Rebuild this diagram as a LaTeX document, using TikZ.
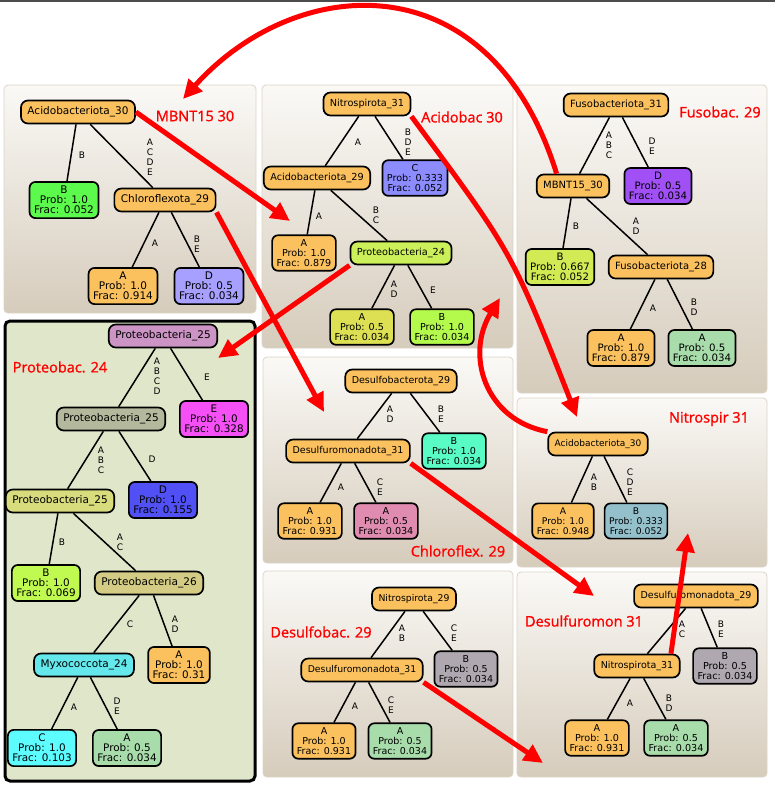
\documentclass[tikz,border=0pt]{standalone}
\usepackage{fontspec}
\setmainfont{DejaVu Sans}
\newfontfamily\tagfont{Open Sans}[FakeBold=1.2]
\usepackage{xcolor}
\usepackage{tikz}
\usetikzlibrary{calc}
\usetikzlibrary{arrows.meta}
\usetikzlibrary{shapes}
\usetikzlibrary{positioning}

\definecolor{orng}{HTML}{FBC15E}
\definecolor{grnB}{HTML}{5CFA4C}
\definecolor{lavD}{HTML}{A8A0FF}
\definecolor{bluC}{HTML}{8C8CFF}
\definecolor{ygrn}{HTML}{CCF05A}
\definecolor{yelA}{HTML}{DCE052}
\definecolor{limB}{HTML}{B4FA4C}
\definecolor{purD}{HTML}{A050F5}
\definecolor{ygrnB}{HTML}{D2EB55}
\definecolor{mint}{HTML}{A8DCAA}
\definecolor{mauve}{HTML}{CC94C4}
\definecolor{magE}{HTML}{F550F5}
\definecolor{gryol}{HTML}{B4B89C}
\definecolor{bluD}{HTML}{5050F5}
\definecolor{yolv}{HTML}{D8DC7C}
\definecolor{limB2}{HTML}{C0FA50}
\definecolor{khaki}{HTML}{D4CC84}
\definecolor{cyanM}{HTML}{64E8EC}
\definecolor{cyanC}{HTML}{5CFCFF}
\definecolor{tealB}{HTML}{58FCC4}
\definecolor{pinkA}{HTML}{E08CB0}
\definecolor{grayL}{HTML}{B0A8B0}
\definecolor{steel}{HTML}{94C0CC}
\definecolor{pbtop}{HTML}{FAF9F6}
\definecolor{pbbot}{HTML}{D6CCBC}
\definecolor{pbline}{HTML}{DCD4C6}
\definecolor{hlfill}{HTML}{DFE6C9}

\def\isz{10}
\def\lsz{10}
\tikzstyle{panel} = [draw=pbline, line width=0.8pt, rounded corners=4pt, top color=pbtop, bottom color=pbbot]
\tikzstyle{hpanel} = [draw=black, line width=3pt, rounded corners=5pt, fill=hlfill]
\tikzstyle{tnode} = [draw, line width=1.7pt, rounded corners=7pt, inner xsep=6.5pt, inner ysep=0pt, minimum height=23pt, font=\fontsize{\isz}{\isz}\selectfont]
\tikzstyle{tleaf} = [draw, line width=1.7pt, rounded corners=6pt, align=center, inner xsep=4.5pt, inner ysep=4pt, font=\fontsize{\lsz}{10.2}\selectfont]
\tikzstyle{tedge} = [-, line width=1.5pt, black]
\tikzstyle{tlab} = [align=center, inner sep=0pt, font=\fontsize{9}{10}\selectfont]
\tikzstyle{tag} = [text=red, inner sep=0pt, font=\tagfont\fontsize{14.5}{14.5}\selectfont]
\tikzstyle{jump} = [red, line width=5pt, -{Triangle[length=19pt,width=18pt]}]

\begin{document}
\begin{tikzpicture}[x=1pt, y=-1pt]
\useasboundingbox (0,0) rectangle (775,785);
\draw [line width=1.6pt, black!70] (0,0.8) -- (775,0.8);
%panels
\draw [panel] (4,85) rectangle (256,313);
\draw [panel] (262,85) rectangle (513,348);
\draw [panel] (517,85) rectangle (767,393);
\draw [hpanel] (5,321) rectangle (255,781);
\draw [panel] (263,357) rectangle (513,563);
\draw [panel] (263,571) rectangle (513,777);
\draw [panel] (517,398) rectangle (767,567);
\draw [panel] (517,572) rectangle (767,777);

%MBNT15 30
\def\isz{10.5}\def\lsz{10.5}
\node [tnode, fill=orng] (acid30) at (78,112) {Acidobacteriota\_30};
\node [tleaf, fill=grnB] (b1) at (64,200) {B\\Prob: 1.0\\Frac: 0.052};
\node [tnode, fill=orng] (chlo29) at (165,200) {Chloroflexota\_29};
\node [tleaf, fill=orng] (a1) at (123,286) {A\\Prob: 1.0\\Frac: 0.914};
\node [tleaf, fill=lavD] (d1) at (209,286) {D\\Prob: 0.5\\Frac: 0.034};
\draw [tedge] (acid30) to (b1);
\draw [tedge] (acid30) to (chlo29);
\draw [tedge] (chlo29) to (a1);
\draw [tedge] (chlo29) to (d1);
\node [tlab] (l1a) at (82,155) {B};
\node [tlab] (l1b) at (150,157) {A\\C\\D\\E};
\node [tlab] (l1c) at (155,243) {A};
\node [tlab] (l1d) at (197,244) {B\\E};
\node [tag] (tag1) at (195,116) {MBNT15 30};

%Acidobac 30
\def\isz{9.7}\def\lsz{9.6}
\node [tnode, fill=orng] (nitr31) at (367,104) {Nitrospirota\_31};
\node [tleaf, fill=bluC] (c2) at (415,178) {C\\Prob: 0.333\\Frac: 0.052};
\node [tnode, fill=orng] (acid29) at (317,178) {Acidobacteriota\_29};
\node [tleaf, fill=orng] (a2) at (304,253) {A\\Prob: 1.0\\Frac: 0.879};
\node [tnode, fill=ygrn] (prot24) at (401,253) {Proteobacteria\_24};
\node [tleaf, fill=yelA] (a2b) at (362,327) {A\\Prob: 0.5\\Frac: 0.034};
\node [tleaf, fill=limB] (b2) at (442,327) {B\\Prob: 1.0\\Frac: 0.034};
\draw [tedge] (nitr31) to (acid29);
\draw [tedge] (nitr31) to (c2);
\draw [tedge] (acid29) to (a2);
\draw [tedge] (acid29) to (prot24);
\draw [tedge] (prot24) to (a2b);
\draw [tedge] (prot24) to (b2);
\node [tlab] (l2a) at (358,142) {A};
\node [tlab] (l2b) at (408,142) {B\\D\\E};
\node [tlab] (l2c) at (319,216) {A};
\node [tlab] (l2d) at (376,215) {B\\C};
\node [tlab] (l2e) at (394,289) {A\\D};
\node [tlab] (l2f) at (433,290) {E};
\node [tag] (tag2) at (462,117) {Acidobac 30};

%Fusobac. 29
\def\isz{10}\def\lsz{10.2}
\node [tnode, fill=orng] (fuso31) at (616,105) {Fusobacteriota\_31};
\node [tleaf, fill=purD] (d3) at (658,186) {D\\Prob: 0.5\\Frac: 0.034};
\node [tnode, fill=orng] (mbnt30) at (573,186) {MBNT15\_30};
\node [tleaf, fill=ygrnB] (b3) at (560,267) {B\\Prob: 0.667\\Frac: 0.052};
\node [tnode, fill=orng] (fuso28) at (661,267) {Fusobacteriota\_28};
\node [tleaf, fill=orng] (a3) at (621,348) {A\\Prob: 1.0\\Frac: 0.879};
\node [tleaf, fill=mint] (a3b) at (702,348) {A\\Prob: 0.5\\Frac: 0.034};
\draw [tedge] (fuso31) to (mbnt30);
\draw [tedge] (fuso31) to (d3);
\draw [tedge] (mbnt30) to (b3);
\draw [tedge] (mbnt30) to (fuso28);
\draw [tedge] (fuso28) to (a3);
\draw [tedge] (fuso28) to (a3b);
\node [tlab] (l3a) at (609,145) {A\\B\\C};
\node [tlab] (l3b) at (652,146) {D\\E};
\node [tlab] (l3c) at (576,226) {B};
\node [tlab] (l3d) at (636,226) {A\\D};
\node [tlab] (l3e) at (653,308) {A};
\node [tlab] (l3f) at (694,307) {B\\D};
\node [tag] (tag3) at (720,112) {Fusobac. 29};

%Proteobac. 24
\def\isz{10.5}\def\lsz{10.4}
\node [tnode, fill=mauve] (prot25a) at (163,336) {Proteobacteria\_25};
\node [tleaf, fill=magE] (e4) at (214,419) {E\\Prob: 1.0\\Frac: 0.328};
\node [tnode, fill=gryol] (prot25b) at (111,419) {Proteobacteria\_25};
\node [tleaf, fill=bluD] (d4) at (163,500) {D\\Prob: 1.0\\Frac: 0.155};
\node [tnode, fill=yolv] (prot25c) at (60,501) {Proteobacteria\_25};
\node [tleaf, fill=limB2] (b4) at (46,583) {B\\Prob: 1.0\\Frac: 0.069};
\node [tnode, fill=khaki] (prot26) at (149,583) {Proteobacteria\_26};
\node [tnode, fill=cyanM] (myxo24) at (84,665) {Myxococcota\_24};
\node [tleaf, fill=orng] (a4) at (179,665) {A\\Prob: 1.0\\Frac: 0.31};
\node [tleaf, fill=cyanC] (c4) at (42,748) {C\\Prob: 1.0\\Frac: 0.103};
\node [tleaf, fill=mint] (a4b) at (127,748) {A\\Prob: 0.5\\Frac: 0.034};
\draw [tedge] (prot25a) to (prot25b);
\draw [tedge] (prot25a) to (e4);
\draw [tedge] (prot25b) to (prot25c);
\draw [tedge] (prot25b) to (d4);
\draw [tedge] (prot25c) to (b4);
\draw [tedge] (prot25c) to (prot26);
\draw [tedge] (prot26) to (myxo24);
\draw [tedge] (prot26) to (a4);
\draw [tedge] (myxo24) to (c4);
\draw [tedge] (myxo24) to (a4b);
\node [tlab] (l4a) at (157,376) {A\\B\\C\\D};
\node [tlab] (l4b) at (207,377) {E};
\node [tlab] (l4c) at (101,460) {A\\B\\C};
\node [tlab] (l4d) at (152,459) {D};
\node [tlab] (l4e) at (62,542) {B};
\node [tlab] (l4f) at (120,542) {A\\C};
\node [tlab] (l4g) at (130,624) {C};
\node [tlab] (l4h) at (175,624) {A\\D};
\node [tlab] (l4i) at (74,707) {A};
\node [tlab] (l4j) at (117,706) {D\\E};
\node [tag] (tag4) at (60,367) {Proteobac. 24};

%Chloroflex. 29
\def\isz{9.5}\def\lsz{9.6}
\node [tnode, fill=orng] (dsb29) at (401,381) {Desulfobacterota\_29};
\node [tleaf, fill=tealB] (b5) at (454,451) {B\\Prob: 1.0\\Frac: 0.034};
\node [tnode, fill=orng] (dsf31a) at (348,451) {Desulfuromonadota\_31};
\node [tleaf, fill=orng] (a5) at (310,521) {A\\Prob: 1.0\\Frac: 0.931};
\node [tleaf, fill=pinkA] (a5b) at (386,521) {A\\Prob: 0.5\\Frac: 0.034};
\draw [tedge] (dsb29) to (dsf31a);
\draw [tedge] (dsb29) to (b5);
\draw [tedge] (dsf31a) to (a5);
\draw [tedge] (dsf31a) to (a5b);
\node [tlab] (l5a) at (390,414) {A\\D};
\node [tlab] (l5b) at (441,414) {B\\E};
\node [tlab] (l5c) at (341,487) {A};
\node [tlab] (l5d) at (380,487) {C\\E};
\node [tag] (tag5) at (458,551) {Chloroflex. 29};

%Desulfobac. 29
\def\isz{9.3}\def\lsz{9.5}
\node [tnode, fill=orng] (nitr29) at (414,599) {Nitrospirota\_29};
\node [tleaf, fill=grayL] (b6) at (466,669) {B\\Prob: 0.5\\Frac: 0.034};
\node [tnode, fill=orng] (dsf31b) at (362,670) {Desulfuromonadota\_31};
\node [tleaf, fill=orng] (a6) at (324,741) {A\\Prob: 1.0\\Frac: 0.931};
\node [tleaf, fill=mint] (a6b) at (400,741) {A\\Prob: 0.5\\Frac: 0.034};
\draw [tedge] (nitr29) to (dsf31b);
\draw [tedge] (nitr29) to (b6);
\draw [tedge] (dsf31b) to (a6);
\draw [tedge] (dsf31b) to (a6b);
\node [tlab] (l6a) at (402,633) {A\\B};
\node [tlab] (l6b) at (454,633) {C\\E};
\node [tlab] (l6c) at (355,706) {A};
\node [tlab] (l6d) at (391,705) {C\\E};
\node [tag] (tag6) at (321,632) {Desulfobac. 29};

%Nitrospir 31
\def\isz{9}\def\lsz{9.2}
\node [tnode, fill=orng] (acid30b) at (598,444) {Acidobacteriota\_30};
\node [tleaf, fill=orng] (a7) at (563,521) {A\\Prob: 1.0\\Frac: 0.948};
\node [tleaf, fill=steel] (b7) at (636,521) {B\\Prob: 0.333\\Frac: 0.052};
\draw [tedge] (acid30b) to (a7);
\draw [tedge] (acid30b) to (b7);
\node [tlab] (l7a) at (594,482) {A\\B};
\node [tlab] (l7b) at (630,482) {C\\D\\E};
\node [tag] (tag7) at (709,419) {Nitrospir 31};

%Desulfuromon 31
\def\isz{9.5}\def\lsz{9.6}
\node [tnode, fill=orng] (dsf29) at (696,596) {Desulfuromonadota\_29};
\node [tleaf, fill=grayL] (b8) at (725,666) {B\\Prob: 0.5\\Frac: 0.034};
\node [tnode, fill=orng] (nitr31b) at (637,666) {Nitrospirota\_31};
\node [tleaf, fill=orng] (a8) at (597,738) {A\\Prob: 1.0\\Frac: 0.931};
\node [tleaf, fill=mint] (a8b) at (676,738) {A\\Prob: 0.5\\Frac: 0.034};
\draw [tedge] (dsf29) to (nitr31b);
\draw [tedge] (dsf29) to (b8);
\draw [tedge] (nitr31b) to (a8);
\draw [tedge] (nitr31b) to (a8b);
\node [tlab] (l8a) at (682,629) {A\\C};
\node [tlab] (l8b) at (721,629) {B\\E};
\node [tlab] (l8c) at (630,703) {A};
\node [tlab] (l8d) at (669,703) {B\\D};
\node [tag] (tag8) at (584,621) {Desulfuromon 31};

%jumps between trees
\coordinate (t1) at (290,221);
\coordinate (t2) at (324,412);
\coordinate (t3) at (218,358);
\coordinate (t4) at (577,417);
\coordinate (t5) at (183,99);
\coordinate (t6) at (500,298);
\coordinate (t7) at (594,596);
\coordinate (t8) at (543,763);
\coordinate (t9) at (688,533);
\draw [jump] (acid30.east) -- (t1);
\draw [jump] (chlo29.south east) -- (t2);
\draw [jump] (prot24.south west) -- (t3);
\draw [jump] (nitr31.south east) .. controls (512,252) .. (t4);
\draw [jump] (mbnt30.143) .. controls (490,-41) and (296,-27) .. (t5);
\draw [jump] (acid30b.north west) .. controls (485,420) and (465,355) .. (t6);
\draw [jump] (dsf31a.south east) -- (t7);
\draw [jump] (dsf31b.south east) -- (t8);
\draw [jump] (nitr31b.20) -- (t9);
\end{tikzpicture}
\end{document}
